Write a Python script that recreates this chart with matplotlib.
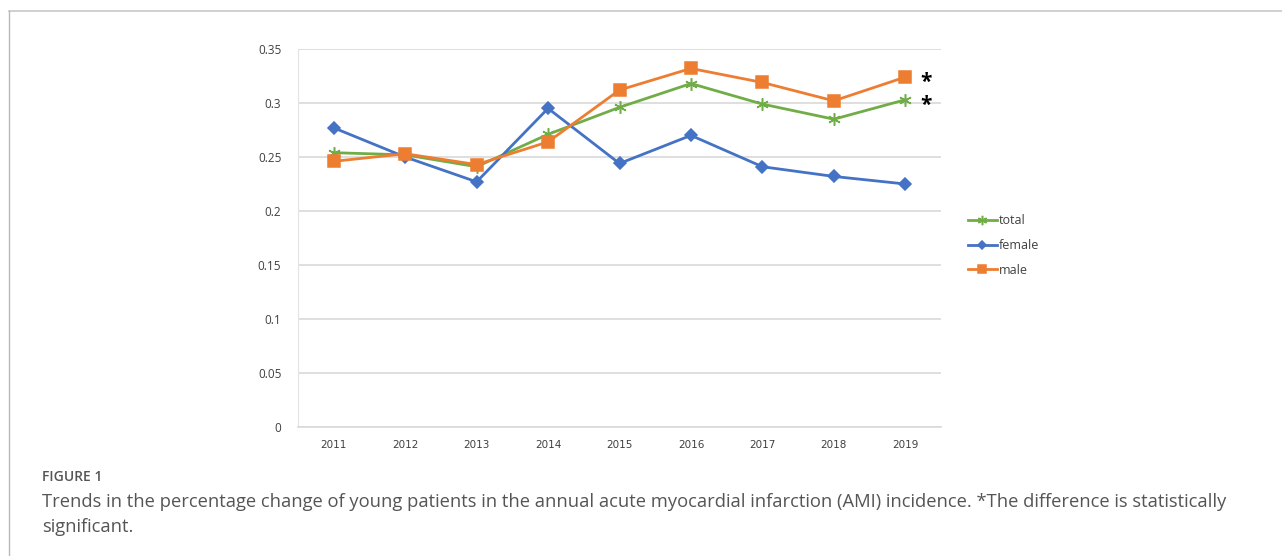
import matplotlib.pyplot as plt
from matplotlib.lines import Line2D

# --- data ---
years = ['2011', '2012', '2013', '2014', '2015', '2016', '2017', '2018', '2019']
total = [0.254, 0.252, 0.241, 0.271, 0.296, 0.318, 0.299, 0.285, 0.303]
female = [0.277, 0.250, 0.227, 0.295, 0.244, 0.270, 0.241, 0.232, 0.225]
male = [0.246, 0.253, 0.243, 0.264, 0.312, 0.332, 0.319, 0.302, 0.324]
y_ticks = [0, 0.05, 0.1, 0.15, 0.2, 0.25, 0.3, 0.35]
y_tick_labels = ['0', '0.05', '0.1', '0.15', '0.2', '0.25', '0.3', '0.35']
significant = ['total', 'male']

caption_title = 'FIGURE 1'
caption_text = ('Trends in the percentage change of young patients in the annual acute myocardial '
                'infarction (AMI) incidence. *The difference is statistically\nsignificant.')

GREEN = '#70AD47'
BLUE = '#4472C4'
ORANGE = '#ED7D31'

plt.rcParams['font.family'] = ['Open Sans', 'DejaVu Sans']

fig = plt.figure(figsize=(12.82, 5.56), dpi=100)
ax = fig.add_axes([298 / 1282, 1 - 427 / 556, (941 - 298) / 1282, (427 - 49) / 556])

x = list(range(len(years)))
series = {
    'total': (total, GREEN, (6, 2, 0), 9),
    'female': (female, BLUE, 'D', 6),
    'male': (male, ORANGE, 's', 8),
}
handles = []
for name, (vals, col, mk, ms) in series.items():
    h, = ax.plot(x, vals, color=col, linewidth=2.0, marker=mk, markersize=ms,
                 markeredgecolor=col, markerfacecolor=col, markeredgewidth=1.1,
                 label=name, zorder=3)
    handles.append(h)
    if name in significant:
        ax.annotate('*', xy=(x[-1], vals[-1]), xytext=(15, -4), textcoords='offset points',
                    fontsize=15, fontweight='bold', ha='center', va='center',
                    color='black')

ax.set_xlim(-0.5, len(years) - 0.5)
ax.set_ylim(0, 0.35)
ax.set_yticks(y_ticks)
ax.set_yticklabels(y_tick_labels)
ax.set_xticks(x)
ax.set_xticklabels(years)
ax.grid(axis='y', color='#d9d9d9', linewidth=1.2)
ax.set_axisbelow(True)
for side in ['top', 'right']:
    ax.spines[side].set_visible(False)
ax.spines['left'].set_color('#e3e3e3')
ax.spines['bottom'].set_color('#d9d9d9')
ax.spines['bottom'].set_linewidth(1.2)
ax.tick_params(axis='both', length=0, labelsize=8.5, colors='#404040')
ax.tick_params(axis='x', pad=9)
ax.tick_params(axis='y', pad=12)
for lab in ax.get_xticklabels():
    lab.set_fontfamily('DejaVu Sans')
    lab.set_fontsize(7.5)

fig.legend(handles=handles, labels=[h.get_label() for h in handles],
           loc='upper left', bbox_to_anchor=(963 / 1282, 1 - 209 / 556),
           frameon=False, fontsize=9, handlelength=2.3, handletextpad=0.15,
           labelspacing=0.95, borderaxespad=0, labelcolor='#404040', markerscale=0.75)

# figure frame lines
fig.add_artist(Line2D([9 / 1282, 1], [1 - 11 / 556, 1 - 11 / 556],
                      transform=fig.transFigure, color='#c8c8c8', linewidth=1.2))
fig.add_artist(Line2D([9 / 1282, 9 / 1282], [0, 1 - 11 / 556],
                      transform=fig.transFigure, color='#b8b8b8', linewidth=1.0))

fig.text(42 / 1282, 1 - 477 / 556, caption_title, fontsize=10, fontweight='semibold',
         color='#555555', va='center', ha='left')
fig.text(42 / 1282, 1 - 493 / 556, caption_text, fontsize=13.2, color='#555555',
         va='top', ha='left', linespacing=1.5)

fig.savefig('out.png', dpi=100)
